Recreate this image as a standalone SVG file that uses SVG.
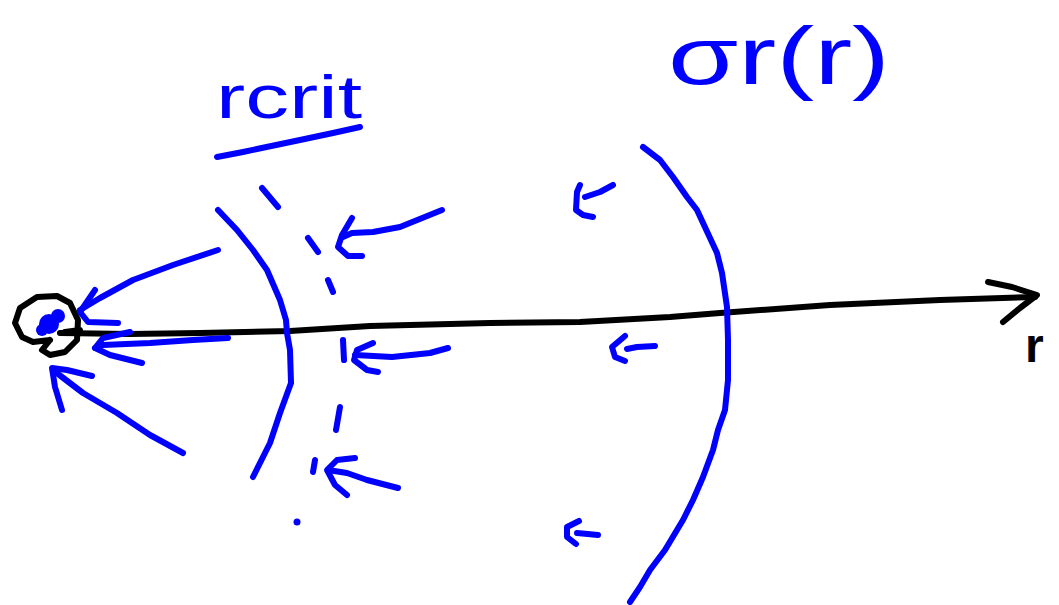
<svg xmlns="http://www.w3.org/2000/svg" width="1059" height="605" viewBox="0 0 1059 605">
<style>
.b{fill:none;stroke:#0000ff;stroke-width:6;stroke-linecap:round;stroke-linejoin:round}
.k{fill:none;stroke:#000;stroke-width:6;stroke-linecap:round;stroke-linejoin:round}
.lb{font-family:"Liberation Sans",Arial,sans-serif;fill:#0000ff}
.lk{font-family:"Liberation Sans",Arial,sans-serif;fill:#000}
</style>
<rect width="1059" height="605" fill="#fff"/>
<g id="origin">
<circle cx="49" cy="324" r="10" fill="#0000ff"/>
<circle cx="58" cy="316" r="7" fill="#0000ff"/>
<circle cx="42" cy="330" r="6" fill="#0000ff"/>
<path class="k" d="M50,340 L42,350 L50,355 L65,352 L77,340 L78,320 L70,303 L57,296 L37,297 L20,308 L15,323 L22,337 L33,342 L50,340 M65,332 L80,330"/>
</g>
<g id="axis">
<path class="k" d="M60,333 L130,334 L200,333 L290,331 L370,326 L490,323 L580,322 L670,317 L720,313 L830,305 L940,300 L1035,297"/>
<path class="k" d="M988,282 L1012,287 L1037,295 L1020,308 L1003,322"/>
<text class="lk" x="1025" y="362" font-size="48" font-weight="bold">r</text>
</g>
<g id="rcrit-arc">
<path class="b" d="M218,210 L237,230 L253,250 L267,270 L280,300 L286,320 L287,333 L290,350 L291,383 L280,413 L270,443 L253,477"/>
</g>
<g id="rcrit-dashed">
<path class="b" d="M262,188 L278,207 M308,238 L318,252 M328,280 L333,292 M343,340 L344,360 M340,407 L336,430 M315,460 L313,472"/>
<circle cx="297" cy="522" r="3.5" fill="#0000ff"/>
</g>
<g id="label-rcrit">
<text class="lb" x="216" y="118" font-size="62" textLength="146" lengthAdjust="spacingAndGlyphs">rcrit</text>
<path class="b" d="M217,157 L243,152 L300,140 L333,133 L360,127"/>
</g>
<g id="sigma-arc">
<path class="b" d="M643,147 L660,160 L673,177 L687,197 L697,210 L717,253 L722,273 L727,307 L728,340 L728,380 L725,410 L718,430 L713,450 L703,477 L693,500 L683,520 L665,550 L650,570 L640,587 L630,602"/>
</g>
<g id="label-sigma">
<text class="lb" x="668" y="84" font-size="82" textLength="222" lengthAdjust="spacingAndGlyphs">σr(r)</text>
</g>
<g id="connectors">
<path class="b" d="M218,250 L173,265 L133,280 L100,298 L80,310"/>
<path class="b" d="M95,290 L80,312 L88,322 L118,323"/>
<path class="b" d="M228,338 L193,340 L150,343 L103,345 L95,348"/>
<path class="b" d="M130,332 L103,338 L95,348 L110,355 L142,363"/>
<path class="b" d="M183,453 L150,435 L117,413 L83,393 L62,377 L53,370"/>
<path class="b" d="M92,376 L67,370 L52,368 L55,387 L62,410"/>
<path class="b" d="M442,210 L400,227 L373,232 L352,233 L343,237"/>
<path class="b" d="M352,218 L342,235 L338,247 L348,256 L362,256"/>
<path class="b" d="M448,348 L430,353 L392,357 L355,355"/>
<path class="b" d="M373,343 L357,350 L354,360 L367,370 L378,372"/>
<path class="b" d="M398,488 L367,480 L347,473 L328,470"/>
<path class="b" d="M355,458 L337,460 L327,470 L335,485 L347,495"/>
<path class="b" d="M613,185 L600,192 L585,197"/>
<path class="b" d="M580,185 L577,192 L576,210 L583,215 L593,217"/>
<path class="b" d="M655,346 L637,347 L627,349"/>
<path class="b" d="M625,336 L612,347 L615,357 L625,361"/>
<path class="b" d="M598,535 L577,533"/>
<path class="b" d="M579,521 L567,527 L567,537 L576,544"/>
</g>
</svg>
